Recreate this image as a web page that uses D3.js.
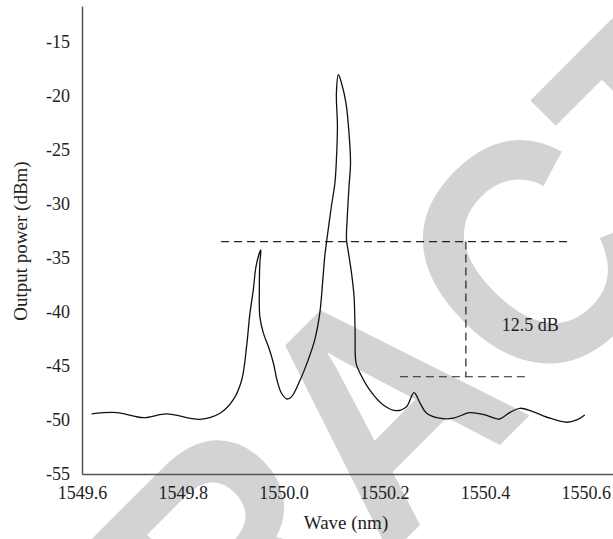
<!DOCTYPE html>
<html>
<head>
<meta charset="utf-8">
<script src="https://cdn.jsdelivr.net/npm/d3@7"></script>
<style>
  html, body { margin: 0; padding: 0; background: #fff; }
  svg { display: block; }
  text { font-family: "Liberation Serif", "DejaVu Serif", serif; fill: #222; }
</style>
</head>
<body>
<div id="viz"></div>
<script>
// spectrum, in drawing order (the main peak leans, so x is not monotonic)
var wave = [
  1549.619, 1549.669, 1549.722, 1549.768, 1549.834, 1549.874, 1549.900, 1549.917,
  1549.927, 1549.933, 1549.940, 1549.946, 1549.955,
  1549.953, 1549.952, 1549.953, 1549.960, 1549.970, 1549.980, 1549.987, 1549.996,
  1550.007, 1550.016, 1550.033, 1550.049, 1550.062, 1550.072, 1550.078, 1550.082,
  1550.086, 1550.095, 1550.102, 1550.105, 1550.107, 1550.105, 1550.109,
  1550.115, 1550.124, 1550.130, 1550.133, 1550.130, 1550.127, 1550.125, 1550.128,
  1550.135, 1550.140, 1550.142, 1550.144, 1550.152, 1550.171, 1550.198, 1550.224,
  1550.244, 1550.259, 1550.271, 1550.284, 1550.310, 1550.337, 1550.370, 1550.400,
  1550.428, 1550.449, 1550.469, 1550.495, 1550.529, 1550.562, 1550.582, 1550.598
];
var power = [
  -49.44, -49.32, -49.79, -49.44, -49.94, -49.38, -48.15, -46.30,
  -43.06, -40.28, -37.96, -35.65, -34.26,
  -35.49, -37.96, -40.44, -41.97, -43.21, -44.75, -46.30, -47.53,
  -48.06, -47.84, -46.30, -44.44, -42.59, -40.12, -37.04, -34.80,
  -33.33, -30.25, -28.08, -25.93, -22.84, -19.75, -18.06,
  -18.82, -20.68, -23.45, -26.23, -28.40, -30.86, -33.33, -34.26,
  -36.42, -38.58, -41.67, -44.75, -45.68, -47.22, -48.61, -49.14,
  -48.77, -47.47, -48.45, -49.38, -49.84, -49.84, -49.32, -49.54,
  -49.91, -49.32, -48.92, -49.23, -49.84, -50.21, -50.00, -49.54
];

var xTicks = [1549.6, 1549.8, 1550.0, 1550.2, 1550.4, 1550.6];
var yTicks = [-55, -50, -45, -40, -35, -30, -25, -20, -15];

// dashed guides for the 12.5 dB side-mode suppression
var guideLevels = [-33.5, -46.0];
var guideFrom = [1549.876, 1550.231];
var guideTo = [1550.568, 1550.485];
var guideAt = 1550.362;
var guideText = "12.5 dB";

var width = 613;
var height = 539;

var x = d3.scaleLinear().domain([1549.6, 1550.654]).range([82, 613]);
var y = d3.scaleLinear().domain([-55, -11.7]).range([474, 6]);

var svg = d3.select("#viz").append("svg")
  .attr("width", width)
  .attr("height", height);

// retraction stamp behind the chart (narrowed a bit, the original face is condensed)
svg.append("text")
  .attr("transform", "translate(460,485) rotate(-45) scale(0.91,1)")
  .attr("text-anchor", "middle")
  .style("font-family", "'Liberation Sans', Arial, sans-serif")
  .style("font-weight", "bold")
  .style("font-size", "323px")
  .style("fill", "#d3d3d3")
  .text("RETRACTED");

// axes
var xAxis = svg.append("g")
  .attr("transform", "translate(0," + y(-55) + ")")
  .call(d3.axisBottom(x).tickValues(xTicks).tickSize(0).tickPadding(12)
    .tickFormat(d3.format(".1f")));

var yAxis = svg.append("g")
  .attr("transform", "translate(" + x(1549.6) + ",0)")
  .call(d3.axisLeft(y).tickValues(yTicks).tickSize(0).tickPadding(12)
    .tickFormat(function (d) { return String(d); }));

[xAxis, yAxis].forEach(function (g) {
  g.attr("font-family", null);
  g.select(".domain").attr("stroke", "#555").attr("stroke-width", 1.5);
  g.selectAll("text")
    .style("font-size", "18px")
    .attr("fill", "#222");
});

// guides
var dash = "8,5";
guideLevels.forEach(function (lv, i) {
  svg.append("line")
    .attr("x1", x(guideFrom[i])).attr("x2", x(guideTo[i]))
    .attr("y1", y(lv)).attr("y2", y(lv))
    .attr("stroke", "#222").attr("stroke-width", 1.2)
    .attr("stroke-dasharray", dash);
});
svg.append("line")
  .attr("x1", x(guideAt)).attr("x2", x(guideAt))
  .attr("y1", y(guideLevels[0])).attr("y2", y(guideLevels[1]))
  .attr("stroke", "#222").attr("stroke-width", 1.2)
  .attr("stroke-dasharray", dash);

svg.append("text")
  .attr("x", x(1550.433))
  .attr("y", y(-41.76))
  .style("font-size", "18px")
  .text(guideText);

// spectrum
var pts = wave.map(function (w, i) { return [w, power[i]]; });
var line = d3.line()
  .x(function (d) { return x(d[0]); })
  .y(function (d) { return y(d[1]); })
  .curve(d3.curveCatmullRom.alpha(0.5));

svg.append("path")
  .datum(pts)
  .attr("d", line)
  .attr("fill", "none")
  .attr("stroke", "#111")
  .attr("stroke-width", 1.3);

// axis titles
svg.append("text")
  .attr("transform", "translate(27,241) rotate(-90)")
  .attr("text-anchor", "middle")
  .style("font-size", "19px")
  .text("Output power (dBm)");

svg.append("text")
  .attr("x", 346)
  .attr("y", 529)
  .attr("text-anchor", "middle")
  .style("font-size", "19px")
  .text("Wave (nm)");
</script>
</body>
</html>
